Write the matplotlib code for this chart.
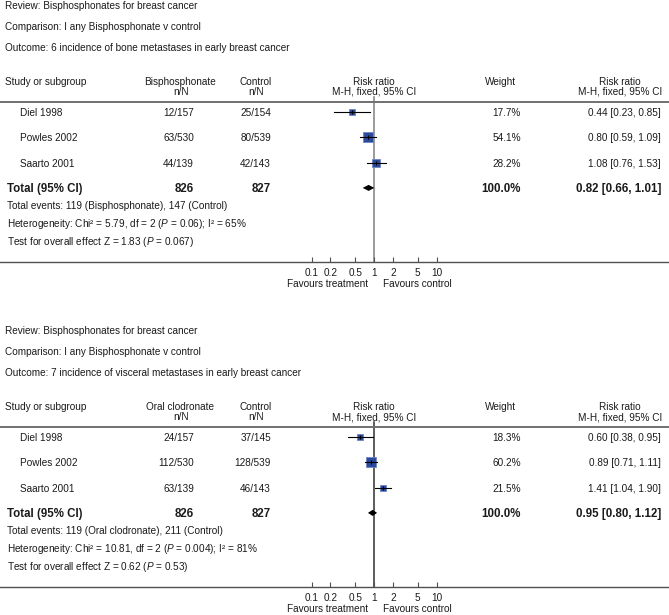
import numpy as np
import matplotlib
matplotlib.use('Agg')
import matplotlib.pyplot as plt

plt.rcParams['font.family'] = ['Liberation Sans', 'DejaVu Sans']
plt.rcParams['mathtext.fontset'] = 'custom'
plt.rcParams['mathtext.rm'] = 'Liberation Sans'
plt.rcParams['mathtext.it'] = 'Liberation Sans:italic'

# data
studies = ['Diel 1998', 'Powles 2002', 'Saarto 2001']

p1_outcome = '6 incidence of bone metastases in early breast cancer'
p1_group = 'Bisphosphonate'
p1_treat = ['12/157', '63/530', '44/139']
p1_ctrl = ['25/154', '80/539', '42/143']
p1_rr = [0.44, 0.80, 1.08]
p1_lo = [0.23, 0.59, 0.76]
p1_hi = [0.85, 1.09, 1.53]
p1_w = [17.7, 54.1, 28.2]
p1_tot_n = [826, 827]
p1_tot_rr = [0.82, 0.66, 1.01]
p1_events = [119, 147]
p1_het = ['5.79', '2', '0.06', '65']
p1_z = ['1.83', '0.067']

p2_outcome = '7 incidence of visceral metastases in early breast cancer'
p2_group = 'Oral clodronate'
p2_treat = ['24/157', '112/530', '63/139']
p2_ctrl = ['37/145', '128/539', '46/143']
p2_rr = [0.60, 0.89, 1.41]
p2_lo = [0.38, 0.71, 1.04]
p2_hi = [0.95, 1.11, 1.90]
p2_w = [18.3, 60.2, 21.5]
p2_tot_n = [826, 827]
p2_tot_rr = [0.95, 0.80, 1.12]
p2_events = [119, 211]
p2_het = ['10.81', '2', '0.004', '81']
p2_z = ['0.62', '0.53']

ticks = [0.1, 0.2, 0.5, 1, 2, 5, 10]

W, H = 669, 615
fig = plt.figure(figsize=(W / 100, H / 100), dpi=100)
bg = fig.add_axes([0, 0, 1, 1])
bg.set_xlim(0, W)
bg.set_ylim(H, 0)
bg.axis('off')

TXT = '#1a1a1a'
FS = 7.2
FSB = 8.3
x_one = 374      # pixel of RR = 1
decade = 62.5    # pixels per decade
row_gap = 25.3


def panel(off, group, treat, ctrl, rr, lo, hi, w, tot_n, tot_rr, events, het, z,
          outcome, vcol):
    t = dict(fontsize=FS, color=TXT, va='center')
    bg.text(5, 6 + off, 'Review: Bisphosphonates for breast cancer', **t)
    bg.text(5, 27 + off, 'Comparison: I any Bisphosphonate v control', **t)
    bg.text(5, 48 + off, 'Outcome: ' + outcome, **t)

    # header
    h1, h2 = 82 + off, 92 + off
    bg.text(5, h1, 'Study or subgroup', **t)
    bg.text(180, h1, group, ha='center', **t)
    bg.text(181, h2, 'n/N', ha='center', **t)
    bg.text(256, h1, 'Control', ha='center', **t)
    bg.text(256, h2, 'n/N', ha='center', **t)
    bg.text(374, h1, 'Risk ratio', ha='center', **t)
    bg.text(374, h2, 'M-H, fixed, 95% CI', ha='center', **t)
    bg.text(501, h1, 'Weight', ha='center', **t)
    bg.text(620, h1, 'Risk ratio', ha='center', **t)
    bg.text(620, h2, 'M-H, fixed, 95% CI', ha='center', **t)

    row0 = 113 + off
    for i, s in enumerate(studies):
        y = row0 + i * row_gap
        bg.text(20, y, s, **t)
        bg.text(194, y, treat[i], ha='right', **t)
        bg.text(271, y, ctrl[i], ha='right', **t)
        bg.text(521, y, f'{w[i]:.1f}%', ha='right', **t)
        bg.text(661, y, f'{rr[i]:.2f} [{lo[i]:.2f}, {hi[i]:.2f}]', ha='right', **t)
    y = row0 + 3 * row_gap
    b = dict(fontsize=FSB, color=TXT, va='center', fontweight='bold')
    bg.text(7, y, 'Total (95% CI)', **b)
    bg.text(194, y, str(tot_n[0]), ha='right', **b)
    bg.text(271, y, str(tot_n[1]), ha='right', **b)
    bg.text(521, y, '100.0%', ha='right', **b)
    bg.text(661, y, f'{tot_rr[0]:.2f} [{tot_rr[1]:.2f}, {tot_rr[2]:.2f}]', ha='right', **b)

    bg.text(7, 206 + off, f'Total events: {events[0]} ({group}), {events[1]} (Control)', **t)
    bg.text(7, 224 + off, f'Heterogeneity: Chi² = {het[0]}, df = {het[1]} ($\\it{{P}}$ = {het[2]}); I² = {het[3]}%', **t)
    bg.text(7, 242 + off, f'Test for overall effect Z = {z[0]} ($\\it{{P}}$ = {z[1]})', **t)

    # forest axes
    sep_y, axis_y = 101.5 + off, 262 + off
    ax = fig.add_axes([0, 1 - axis_y / H, 1, (axis_y - sep_y) / H])
    ax.set_xscale('log')
    ax.set_xlim(10 ** (-x_one / decade), 10 ** ((W - x_one) / decade))
    r0 = row0 - 1
    ax.set_ylim((axis_y - r0) / row_gap, (sep_y - r0) / row_gap)
    ax.patch.set_alpha(0)
    for sp in ['left', 'right']:
        ax.spines[sp].set_visible(False)
    ax.spines['top'].set_color('#707070')
    ax.spines['top'].set_linewidth(1.4)
    ax.spines['bottom'].set_color('#505050')
    ax.spines['bottom'].set_linewidth(1.0)
    ax.set_yticks([])
    ax.set_xticks(ticks)
    ax.set_xticklabels([f'{v:g}' for v in ticks])
    ax.xaxis.set_minor_locator(matplotlib.ticker.NullLocator())
    ax.tick_params(axis='x', direction='in', length=3.5, width=0.8, color='#505050',
                   labelsize=FS, labelcolor=TXT, pad=4)
    ax.axvline(1, ymin=0, ymax=1.03, color=vcol, lw=1.1, clip_on=False, zorder=1)

    for i in range(len(rr)):
        side = 1.35 * np.sqrt(w[i]) * 0.72
        ax.plot([lo[i], hi[i]], [i, i], color='black', lw=0.8, zorder=4)
        ax.plot(rr[i], i, marker='s', ms=side, mfc='#2b4a9c', mec='#7086c4', mew=0.6,
                zorder=3)
        ax.plot(rr[i], i, marker='|', ms=2.5, color='black', mew=0.8, zorder=5)
    d = 0.12
    ax.fill([tot_rr[1], tot_rr[0], tot_rr[2], tot_rr[0]], [3, 3 - d, 3, 3 + d],
            color='black', zorder=4, lw=0)

    bg.text(368, 284 + off, 'Favours treatment', ha='right', **t)
    bg.text(383, 284 + off, 'Favours control', ha='left', **t)


panel(0, p1_group, p1_treat, p1_ctrl, p1_rr, p1_lo, p1_hi, p1_w, p1_tot_n, p1_tot_rr,
      p1_events, p1_het, p1_z, p1_outcome, '#808080')
panel(325, p2_group, p2_treat, p2_ctrl, p2_rr, p2_lo, p2_hi, p2_w, p2_tot_n, p2_tot_rr,
      p2_events, p2_het, p2_z, p2_outcome, '#303030')

fig.savefig('out.png', dpi=100)
